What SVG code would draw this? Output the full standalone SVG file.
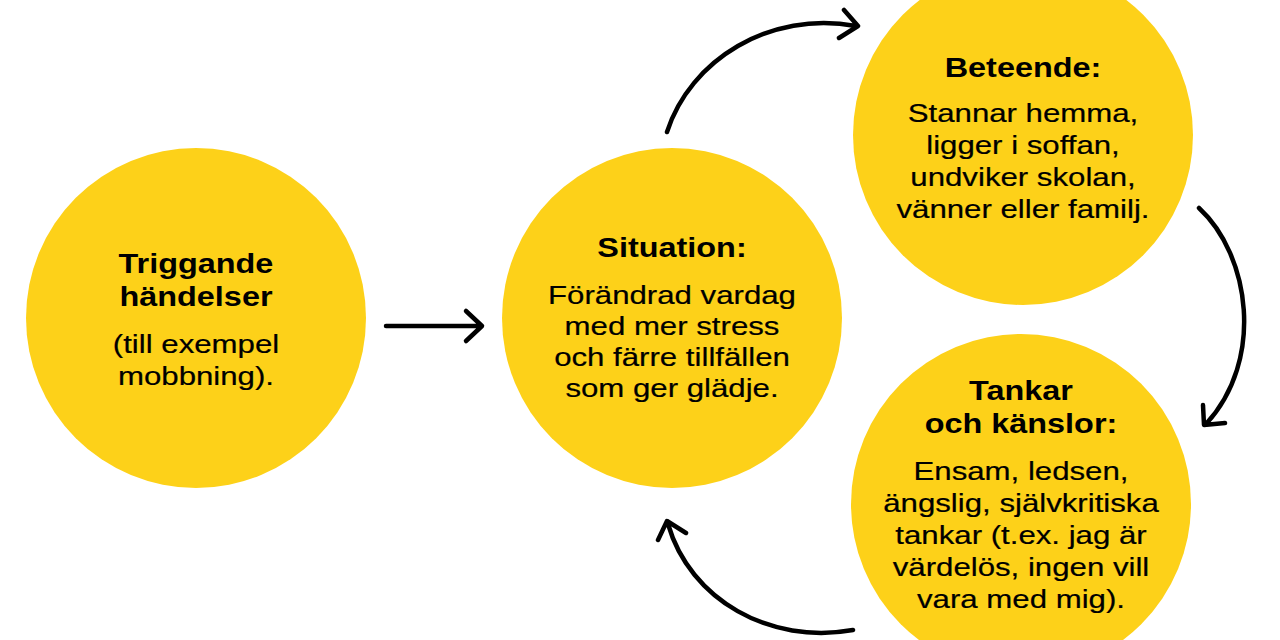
<svg xmlns="http://www.w3.org/2000/svg" width="1280" height="640" viewBox="0 0 1280 640">
<style>
.node{fill:#FDD119}
.t{font-family:"Liberation Sans",Arial,sans-serif;font-weight:bold;font-size:27px;fill:#000;text-anchor:middle}
.b{font-family:"Liberation Sans",Arial,sans-serif;font-size:26px;fill:#000;text-anchor:middle;stroke:#000;stroke-width:0.2}
.c{fill:none;stroke:#000;stroke-width:4.5;stroke-linecap:round;stroke-linejoin:round}
</style>
<rect width="1280" height="640" fill="#fff"/>
<g id="triggande">
<circle class="node" cx="196" cy="318" r="170"/>
<g transform="translate(196,0) scale(1.2,1)">
<text class="t" x="0" y="273">Triggande</text>
<text class="t" x="0" y="306">händelser</text>
<text class="b" x="0" y="353">(till exempel</text>
<text class="b" x="0" y="385">mobbning).</text>
</g>
</g>
<g id="situation">
<circle class="node" cx="672" cy="318" r="170"/>
<g transform="translate(672,0) scale(1.2,1)">
<text class="t" x="0" y="257">Situation:</text>
<text class="b" x="0" y="304">Förändrad vardag</text>
<text class="b" x="0" y="335">med mer stress</text>
<text class="b" x="0" y="366">och färre tillfällen</text>
<text class="b" x="0" y="397">som ger glädje.</text>
</g>
</g>
<g id="beteende">
<circle class="node" cx="1023" cy="135" r="170"/>
<g transform="translate(1023,0) scale(1.2,1)">
<text class="t" x="0" y="77">Beteende:</text>
<text class="b" x="0" y="122">Stannar hemma,</text>
<text class="b" x="0" y="154">ligger i soffan,</text>
<text class="b" x="0" y="186">undviker skolan,</text>
<text class="b" x="0" y="218">vänner eller familj.</text>
</g>
</g>
<g id="tankar">
<circle class="node" cx="1021" cy="504" r="170"/>
<g transform="translate(1021,0) scale(1.2,1)">
<text class="t" x="0" y="400">Tankar</text>
<text class="t" x="0" y="433">och känslor:</text>
<text class="b" x="0" y="480">Ensam, ledsen,</text>
<text class="b" x="0" y="512">ängslig, självkritiska</text>
<text class="b" x="0" y="544">tankar (t.ex. jag är</text>
<text class="b" x="0" y="576">värdelös, ingen vill</text>
<text class="b" x="0" y="608">vara med mig).</text>
</g>
</g>
<g id="connectors">
<path class="c" d="M386,326 L482,326 M466,311 L482,326 L466,341"/>
<path class="c" d="M667,132 C690,60 770,10 856,26 M844,10 L858,26 L839,38"/>
<path class="c" d="M1199,208 C1250,255 1265,360 1206,424 M1203,405 L1204,425 L1225,423"/>
<path class="c" d="M853,630 C770,645 690,600 668,524 M658,540 L667,521 L686,533"/>
</g>
</svg>
